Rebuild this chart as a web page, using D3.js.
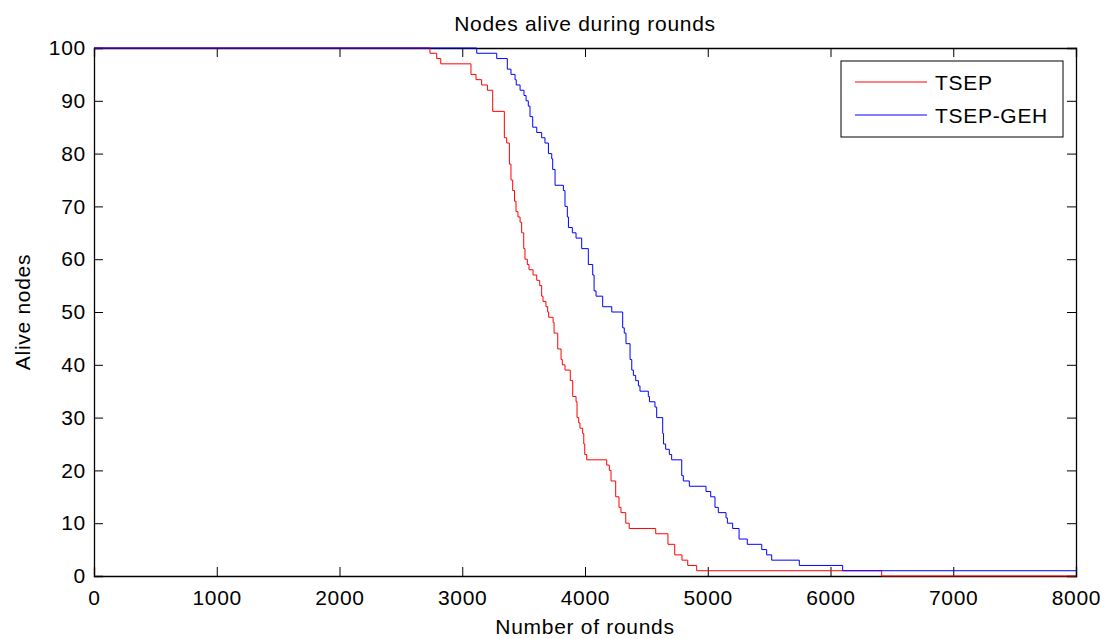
<!DOCTYPE html>
<html>
<head>
<meta charset="utf-8">
<script src="https://cdn.jsdelivr.net/npm/d3@7"></script>
<style>
  body { margin: 0; background: #fff; }
  text { font-family: "Liberation Sans", Arial, sans-serif; fill: #000; letter-spacing: 0.7px; }
</style>
</head>
<body>
<script>
// Data: step points (round at which the count changes, nodes alive from then on)
const tsepRounds = [0, 2737, 2792, 2825, 3071, 3112, 3158, 3205, 3248, 3343, 3362, 3384, 3397, 3411, 3426, 3438, 3454, 3471, 3484, 3501, 3511, 3530, 3544, 3577, 3607, 3631, 3647, 3658, 3682, 3696, 3704, 3740, 3748, 3778, 3805, 3815, 3837, 3880, 3900, 3927, 3935, 3949, 3959, 3981, 3990, 3998, 4014, 4177, 4198, 4212, 4250, 4277, 4293, 4332, 4360, 4576, 4676, 4731, 4790, 4837, 4910, 6417, 8000];
const tsepAlive  = [100, 99, 98, 97, 95, 94, 93, 92, 88, 83, 82, 78, 75, 73, 71, 69, 68, 67, 65, 62, 60, 59, 58, 57, 56, 55, 53, 52, 51, 50, 49, 48, 46, 43, 41, 40, 39, 37, 34, 33, 30, 29, 28, 27, 25, 23, 22, 21, 20, 18, 15, 13, 12, 10, 9, 8, 6, 4, 3, 2, 1, 0, 0];

const gehRounds = [0, 3118, 3281, 3367, 3397, 3430, 3440, 3471, 3503, 3520, 3538, 3552, 3574, 3607, 3647, 3674, 3702, 3729, 3737, 3756, 3824, 3837, 3856, 3865, 3897, 3927, 3973, 4027, 4063, 4074, 4090, 4144, 4218, 4307, 4320, 4334, 4367, 4381, 4394, 4413, 4435, 4448, 4516, 4525, 4570, 4584, 4633, 4640, 4657, 4687, 4706, 4788, 4801, 4850, 4986, 5024, 5059, 5086, 5149, 5160, 5203, 5255, 5322, 5440, 5480, 5521, 5746, 6099, 8000];
const gehAlive  = [100, 99, 98, 96, 95, 94, 93, 92, 91, 90, 89, 87, 85, 84, 83, 82, 80, 79, 77, 74, 73, 70, 68, 66, 65, 64, 62, 59, 57, 54, 53, 51, 50, 47, 46, 44, 41, 39, 38, 37, 36, 35, 34, 33, 32, 30, 27, 25, 24, 23, 22, 19, 18, 17, 16, 15, 13, 12, 11, 10, 9, 7, 6, 5, 4, 3, 2, 1, 1];

const xTicks = [0, 1000, 2000, 3000, 4000, 5000, 6000, 7000, 8000];
const yTicks = [0, 10, 20, 30, 40, 50, 60, 70, 80, 90, 100];
const seriesNames = ["TSEP", "TSEP-GEH"];
const seriesColors = ["#ff0000", "#0000ff"];

const W = 1111, H = 639;
const margin = { top: 48, right: 35, bottom: 63, left: 94 };
const width = W - margin.left - margin.right;
const height = H - margin.top - margin.bottom;

const svg = d3.select("body").append("svg")
    .attr("width", W)
    .attr("height", H);

const g = svg.append("g")
    .attr("transform", `translate(${margin.left},${margin.top})`);

const x = d3.scaleLinear().domain([0, 8000]).range([0, width]);
const y = d3.scaleLinear().domain([0, 100]).range([height, 0]);

const fs = 21;

// Axes with inward ticks on all four sides
g.append("g")
    .attr("transform", `translate(0,${height})`)
    .call(d3.axisBottom(x).tickValues(xTicks).tickSize(-9).tickPadding(14).tickFormat(d3.format("d")))
    .call(a => a.selectAll("text").attr("font-size", fs));
g.append("g")
    .call(d3.axisTop(x).tickValues(xTicks).tickSize(-9).tickFormat(""));
g.append("g")
    .call(d3.axisLeft(y).tickValues(yTicks).tickSize(-9).tickPadding(8))
    .call(a => a.selectAll("text").attr("font-size", fs));
g.append("g")
    .attr("transform", `translate(${width},0)`)
    .call(d3.axisRight(y).tickValues(yTicks).tickSize(-9).tickFormat(""));

g.selectAll(".domain").attr("stroke", "#000").attr("stroke-width", 1.3);
g.selectAll(".tick line").attr("stroke", "#000");
g.selectAll(".tick text").attr("font-family", "Liberation Sans, Arial, sans-serif").attr("fill", "#000");

// Lines
const line = d3.line()
    .x(d => x(d[0]))
    .y(d => y(d[1]))
    .curve(d3.curveStepAfter);

const series = [
    d3.zip(tsepRounds, tsepAlive),
    d3.zip(gehRounds, gehAlive)
];

series.forEach((s, i) => {
    g.append("path")
        .datum(s)
        .attr("fill", "none")
        .attr("stroke", seriesColors[i])
        .attr("stroke-width", 1)
        .attr("d", line);
});

// Titles
svg.append("text")
    .attr("x", margin.left + width / 2)
    .attr("y", 31)
    .attr("text-anchor", "middle")
    .attr("font-size", fs)
    .text("Nodes alive during rounds");

svg.append("text")
    .attr("x", margin.left + width / 2)
    .attr("y", 634)
    .attr("text-anchor", "middle")
    .attr("font-size", fs)
    .text("Number of rounds");

svg.append("text")
    .attr("transform", `translate(30,${margin.top + height / 2}) rotate(-90)`)
    .attr("text-anchor", "middle")
    .attr("font-size", fs)
    .text("Alive nodes");

// Legend
const lg = svg.append("g").attr("transform", "translate(841,61)");
lg.append("rect")
    .attr("width", 222)
    .attr("height", 76)
    .attr("fill", "#fff")
    .attr("stroke", "#000")
    .attr("stroke-width", 1);

seriesNames.forEach((name, i) => {
    const yy = 21 + i * 33;
    lg.append("line")
        .attr("x1", 14).attr("x2", 86)
        .attr("y1", yy).attr("y2", yy)
        .attr("stroke", seriesColors[i])
        .attr("stroke-width", 1);
    lg.append("text")
        .attr("x", 94)
        .attr("y", yy + 8)
        .attr("font-size", fs)
        .text(name);
});
</script>
</body>
</html>
